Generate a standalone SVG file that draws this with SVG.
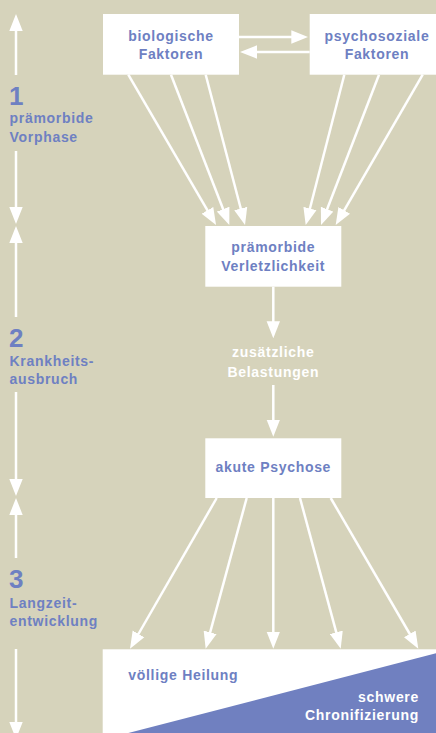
<svg xmlns="http://www.w3.org/2000/svg" width="436" height="733" viewBox="0 0 436 733">
<defs>
<style>
.bg{fill:#d6d3bb}
.box{fill:#ffffff}
.t{font-family:"Liberation Sans",Arial,sans-serif;font-weight:bold;font-size:14px;letter-spacing:0.7px;fill:#6e80c2}
.c{text-anchor:middle}
.w{fill:#ffffff}
.num{font-family:"Liberation Sans",Arial,sans-serif;font-weight:bold;font-size:26px;fill:#6e80c2}
.ln{stroke:#ffffff;stroke-width:2.5;fill:none;marker-end:url(#ah)}
</style>
<marker id="ah" markerUnits="userSpaceOnUse" viewBox="0 -7 17 14" markerWidth="17" markerHeight="14" refX="7" refY="0" orient="auto">
<path d="M0,-6.7 L17,0 L0,6.7 Z" fill="#ffffff"/>
</marker>
</defs>
<rect class="bg" x="0" y="0" width="436" height="733"/>

<g id="phase-1">
<line class="ln" x1="16" y1="75" x2="16" y2="24"/>
<line class="ln" x1="16" y1="151" x2="16" y2="214"/>
<text class="num" x="9" y="105">1</text>
<text class="t" x="9.5" y="123">prämorbide</text>
<text class="t" x="9.5" y="141.5">Vorphase</text>
</g>
<g id="phase-2">
<line class="ln" x1="16" y1="317" x2="16" y2="236"/>
<line class="ln" x1="16" y1="392" x2="16" y2="486"/>
<text class="num" x="9" y="346.5">2</text>
<text class="t" x="9.5" y="365.5">Krankheits-</text>
<text class="t" x="9.5" y="383.5">ausbruch</text>
</g>
<g id="phase-3">
<line class="ln" x1="16" y1="558" x2="16" y2="508"/>
<line class="ln" x1="16" y1="649" x2="16" y2="729"/>
<text class="num" x="9" y="588">3</text>
<text class="t" x="9.5" y="608">Langzeit-</text>
<text class="t" x="9.5" y="626">entwicklung</text>
</g>

<g id="connectors">
<line class="ln" x1="239" y1="37" x2="298.3" y2="37"/>
<line class="ln" x1="309.7" y1="52" x2="250" y2="52"/>
<line class="ln" x1="128.3" y1="74.7" x2="211" y2="216.4"/>
<line class="ln" x1="171" y1="74.7" x2="225.7" y2="215.7"/>
<line class="ln" x1="205.7" y1="74.7" x2="242.5" y2="215.3"/>
<line class="ln" x1="344.3" y1="74.7" x2="308.2" y2="215.3"/>
<line class="ln" x1="379" y1="74.7" x2="324.6" y2="215.7"/>
<line class="ln" x1="422.7" y1="74.7" x2="340.7" y2="216.4"/>
<line class="ln" x1="273.3" y1="286.7" x2="273.3" y2="328.3"/>
<line class="ln" x1="273.3" y1="385" x2="273.3" y2="426.7"/>
<line class="ln" x1="216.7" y1="498" x2="135" y2="640"/>
<line class="ln" x1="246.7" y1="498" x2="208.3" y2="639.1"/>
<line class="ln" x1="273.3" y1="498" x2="273.3" y2="638.7"/>
<line class="ln" x1="300" y1="498" x2="338.1" y2="639.1"/>
<line class="ln" x1="330.7" y1="498" x2="413.3" y2="640"/>
</g>

<g id="biologische-faktoren">
<rect class="box" x="103" y="14" width="136" height="60.7"/>
<text class="t c" x="171" y="40.7">biologische</text>
<text class="t c" x="171" y="58.7">Faktoren</text>
</g>
<g id="psychosoziale-faktoren">
<rect class="box" x="309.7" y="14" width="126.3" height="60.7"/>
<text class="t c" x="377" y="40.7">psychosoziale</text>
<text class="t c" x="377" y="58.7">Faktoren</text>
</g>
<g id="praemorbide-verletzlichkeit">
<rect class="box" x="205.3" y="226" width="136" height="60.7"/>
<text class="t c" x="273.3" y="252.3">prämorbide</text>
<text class="t c" x="273.3" y="270.7">Verletzlichkeit</text>
</g>
<g id="zusaetzliche-belastungen">
<text class="t c w" x="273.3" y="357.3">zusätzliche</text>
<text class="t c w" x="273.3" y="376.7">Belastungen</text>
</g>
<g id="akute-psychose">
<rect class="box" x="205.3" y="438.3" width="136" height="59.7"/>
<text class="t c" x="273.3" y="472.3">akute Psychose</text>
</g>
<g id="verlauf">
<rect class="box" x="102.7" y="649.3" width="333.3" height="83.7"/>
<polygon points="436,653.3 436,733 128.3,733" fill="#7080c0"/>
<text class="t" x="128.3" y="680">völlige Heilung</text>
<text class="t w" x="419" y="701.7" text-anchor="end">schwere</text>
<text class="t w" x="419" y="720" text-anchor="end">Chronifizierung</text>
</g>
</svg>
